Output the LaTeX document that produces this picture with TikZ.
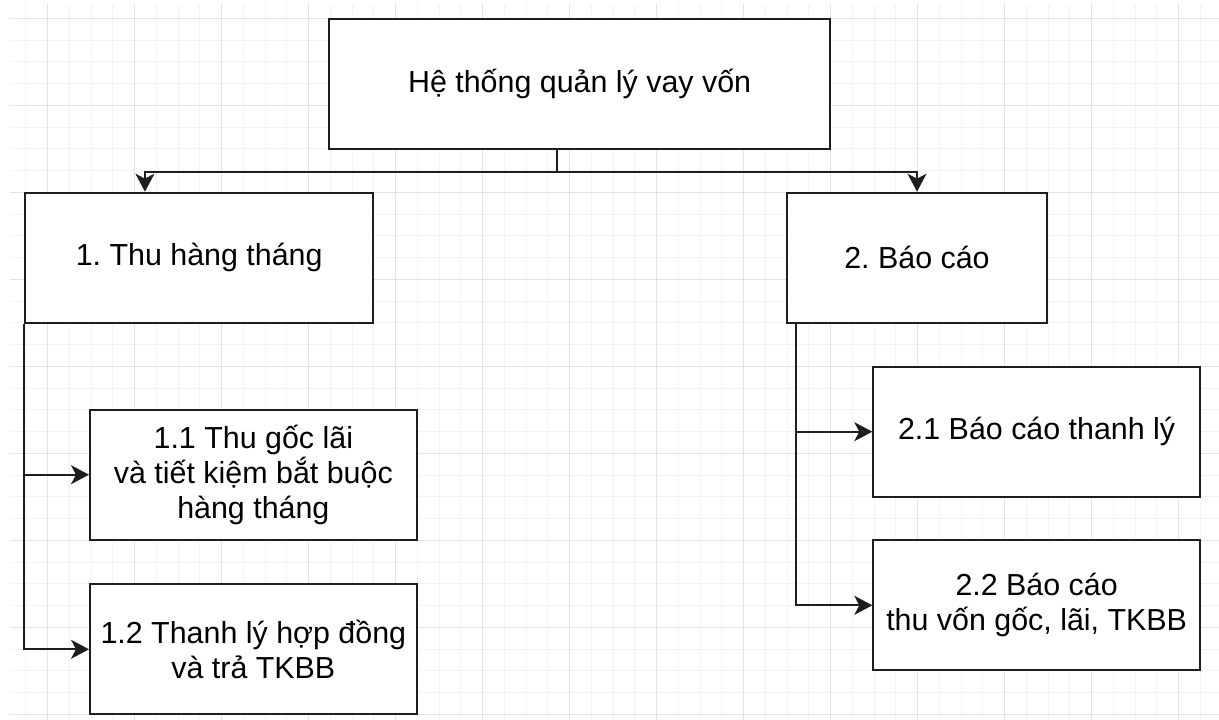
\documentclass[tikz,border=0pt]{standalone}
\usepackage{fontspec}
\setmainfont{Liberation Sans}
\usetikzlibrary{arrows.meta}
\definecolor{gridminor}{HTML}{F3F3F3}
\definecolor{gridmajor}{HTML}{E4E4E4}
\definecolor{ink}{HTML}{1E1E1E}
\frenchspacing
\begin{document}
\begin{tikzpicture}[x=1pt,y=-1pt,
  box/.style={draw=ink, line width=2pt, fill=white, rectangle, inner sep=0pt,
    align=center, minimum height=130pt, font=\fontsize{30.4}{35}\selectfont},
  conn/.style={draw=ink, line width=2pt,
    -{Stealth[length=18pt,width=19pt,inset=5pt]}},
  minorline/.style={draw=gridminor, line width=1pt},
  majorline/.style={draw=gridmajor, line width=1pt}]

% canvas and background grid
\useasboundingbox (0,0) rectangle (1219,720);
\fill[white] (0,0) rectangle (1219,720);
\foreach \k in {-1,...,53}
  \draw[minorline] ({47.7+21.75*\k},4) -- ({47.7+21.75*\k},720);
\foreach \k in {0,...,32}
  \draw[minorline] (10,{18.3+21.75*\k}) -- (1219,{18.3+21.75*\k});
\foreach \k in {0,...,13}
  \draw[majorline] ({47.7+87*\k},4) -- ({47.7+87*\k},720);
\foreach \k in {0,...,8}
  \draw[majorline] (10,{18.3+87*\k}) -- (1219,{18.3+87*\k});

% boxes
\node[box, minimum width=500.7pt] (top) at (579.65,84) {Hệ thống quản lý vay vốn};
\node[box, minimum width=348.3pt] (n1) at (199.15,257.7) {1. Thu hàng tháng};
\node[box, minimum width=260.6pt] (n2) at (917,257.7) {2. Báo cáo};
\node[box, minimum width=326.7pt] (n11) at (253.35,474.7)
  {1.1 Thu gốc lãi\\và tiết kiệm bắt buộc\\hàng tháng};
\node[box, minimum width=326.7pt] (n12) at (253.35,649.3)
  {1.2 Thanh lý hợp đồng\\và trả TKBB};
\node[box, minimum width=326.7pt] (n21) at (1036.65,431.7)
  {\rule[-7pt]{0pt}{30pt}2.1 Báo cáo thanh lý};
\node[box, minimum width=326.7pt] (n22) at (1036.65,605.3)
  {2.2 Báo cáo\\thu vốn gốc, lãi, TKBB};

% connectors
\draw[conn] ([xshift=-22.3pt]top.south) -- ++(0,22) -| ([xshift=-54.2pt]n1.north);
\draw[conn] ([xshift=-22.3pt]top.south) -- ++(0,22) -| (n2.north);
\draw[conn] (n1.south west) |- (n11.west);
\draw[conn] (n1.south west) |- (n12.west);
\draw[conn] ([xshift=10pt]n2.south west) |- (n21.west);
\draw[conn] ([xshift=10pt]n2.south west) |- (n22.west);
\end{tikzpicture}
\end{document}
